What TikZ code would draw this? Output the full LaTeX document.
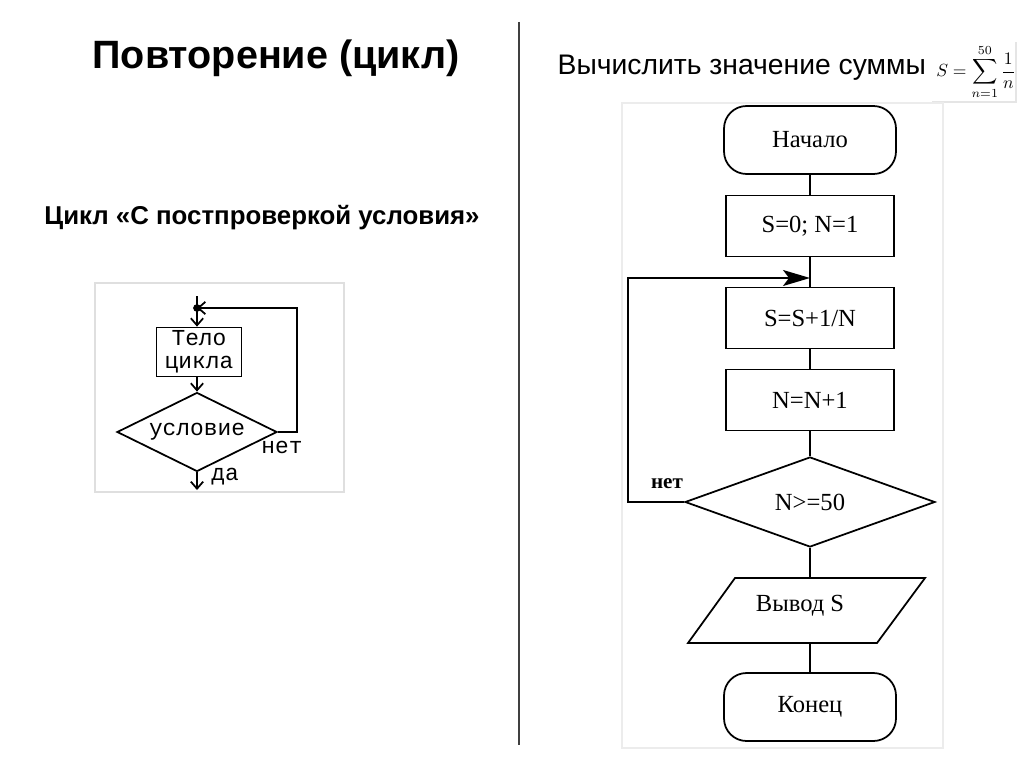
\documentclass[tikz,border=0pt]{standalone}
\usepackage{fontspec}
\setmainfont{Liberation Serif}
\newfontfamily\headfont{Liberation Sans}
\newfontfamily\courfont{Liberation Mono}
\usetikzlibrary{shapes,arrows.meta,positioning}

\begin{document}
\begin{tikzpicture}[x=0.02cm, y=-0.02cm, line width=1pt,
  proc/.style={draw, minimum width=3.36cm, minimum height=1.22cm, font=\fontsize{14}{16}\selectfont},
  term/.style={draw, rounded corners=0.45cm, minimum width=3.44cm, minimum height=1.36cm, font=\fontsize{14}{16}\selectfont},
  cond/.style={draw, diamond, aspect=2.8, inner sep=0pt, minimum width=5cm, minimum height=1.8cm, font=\fontsize{14}{16}\selectfont},
  small/.style={font=\courfont\fontsize{13}{13}\selectfont},
  barb/.style={-{Straight Barb[length=4pt, width=7pt]}}]
\useasboundingbox (0,0) rectangle (1024,767);

% headings
\node[font=\headfont\bfseries\fontsize{22.5}{25}\selectfont] (title) at (276,58) {Повторение (цикл)};
\node[font=\headfont\bfseries\fontsize{14.7}{16}\selectfont] (kind) at (262,218) {Цикл «С постпроверкой условия»};
\node[font=\headfont\fontsize{16.1}{18}\selectfont, anchor=west] (task) at (551,68) {Вычислить значение суммы};
\draw[gray!20, line width=0.8pt] (1016,42) -- (1016,102) -- (932,102);
\node[font=\fontsize{10}{11}\selectfont, inner sep=0pt] (sum) at (976,72) {$\displaystyle S=\sum_{n=1}^{50}\frac{1}{n}$};

% divider
\draw[black!75, line width=0.9pt] (519,22) -- (519,745);

% small scheme
\draw[gray!25, line width=0.7pt] (95,283) rectangle (344,492);
\coordinate (entry) at (197,296);
\coordinate (join) at (197,308);
\node[draw, small, align=center, inner sep=1pt, minimum width=1.7cm, minimum height=0.98cm] (body) at (199,352) {Тело\\цикла};
\node[draw, diamond, aspect=2, inner sep=0pt, minimum width=3.2cm, minimum height=1.58cm, small] (test) at (197,432) {условие};
\coordinate (exit) at (197,490);
\draw[barb] (entry) -- (entry |- body.north);
\draw[barb] (entry |- body.south) -- (test.north);
\draw[barb] (test.south) -- (exit);
\draw[barb] (test.east) -- ++(19,0) |- (join);
\fill (join) circle (2.2pt);
\node[small] (no) at (282,447) {нет};
\node[small] (yes) at (225,477) {да};

% sum scheme
\draw[gray!15, line width=0.7pt] (622,103) rectangle (943,748);
\node[term] (start) at (810,140) {Начало};
\node[proc] (init) at (810,226) {S=0; N=1};
\node[proc] (addS) at (810,318) {S=S+1/N};
\node[proc] (incN) at (810,400) {N=N+1};
\node[cond] (check) at (810,502) {N>=50};
\draw (735,578) -- (925,578) -- (877,643) -- (688,643) -- cycle;
\node[font=\fontsize{14}{16}\selectfont] (out) at (800,606) {Вывод S};
\coordinate (outtop) at (810,578);
\coordinate (outbot) at (810,643);
\node[term] (stop) at (810,707) {Конец};
\coordinate (loopin) at (810,278);
\draw (start) -- (init);
\draw (init) -- (addS);
\draw (addS) -- (incN);
\draw (incN) -- (check);
\draw (check.south) -- (outtop);
\draw (outbot) -- (stop);
\draw[-{Stealth[length=0.54cm, width=0.32cm, inset=0.12cm]}] (check.west) -- ++(-56,0) |- (loopin);
\node[font=\bfseries\fontsize{12}{14}\selectfont] (no2) at (667,484) {нет};
\end{tikzpicture}
\end{document}
